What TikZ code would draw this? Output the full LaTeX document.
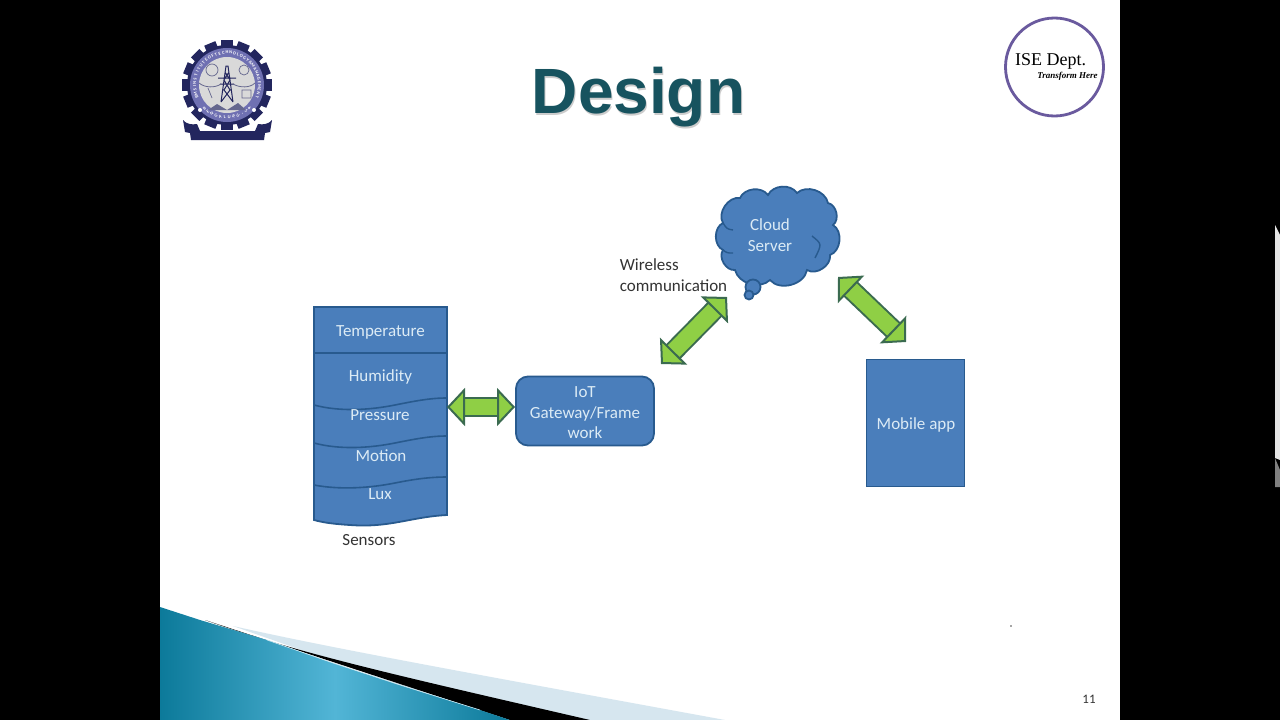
\documentclass[tikz,border=0pt]{standalone}
\usepackage{fontspec}
\setmainfont{Carlito}
\newfontfamily\titlefont{Liberation Sans}
\newfontfamily\logofont{Liberation Serif}
\usetikzlibrary{arrows.meta}
\definecolor{boxblue}{HTML}{4A7EBB}
\definecolor{boxedge}{HTML}{285A8E}
\definecolor{boxtext}{HTML}{DCEBF5}
\definecolor{linkfill}{HTML}{8FCF45}
\definecolor{linkedge}{HTML}{3B6B50}
\definecolor{titleteal}{HTML}{17535F}
\definecolor{deptpurple}{HTML}{6A5A9E}
\definecolor{gearnavy}{HTML}{23265E}
\definecolor{ringblue}{HTML}{6F70B2}
\definecolor{wedgedark}{HTML}{0C7A9A}
\definecolor{wedgelight}{HTML}{52B5D6}
\definecolor{wedgepale}{HTML}{D6E6EF}
\tikzset{
  blockbox/.style={draw=boxedge, fill=boxblue, line width=1.8pt},
  boxlabel/.style={text=boxtext, font=\fontsize{17}{20.5}\selectfont, align=center, inner sep=0pt},
  plainlabel/.style={text=black!80, font=\fontsize{17}{21}\selectfont, align=left, inner sep=0pt},
  ringchar/.style={text=white, inner sep=0pt, font=\bfseries\fontsize{4.5}{5}\selectfont},
  linkarrow/.style={draw=linkedge, double=linkfill, line width=2pt, double distance=16.5pt,
    {Triangle[length=18pt,width=38pt,fill=linkfill,color=linkedge,line width=2pt]}-{Triangle[length=18pt,width=38pt,fill=linkfill,color=linkedge,line width=2pt]}},
}
\begin{document}
\begin{tikzpicture}[x=1pt, y=-1pt]
    \useasboundingbox (0,0) rectangle (1280,720);
    % slide and black side bars
    \fill[black] (0,0) rectangle (1280,720);
    \fill[white] (160,0) rectangle (1120,720);
    \fill[black!10] (1275,225) -- (1280,235) -- (1280,460) -- (1275,458) -- cycle;
    \fill[black!50] (1275,458) -- (1280,470) -- (1280,487) -- (1275,487) -- cycle;
    % bottom wedge
    \fill[wedgepale] (233,626) .. controls (330,648) and (480,675) .. (725,720) -- (500,720) -- cycle;
    \fill[black] (205,620) .. controls (300,654) and (400,676) .. (590,720) -- (510,720) -- cycle;
    \shade[left color=wedgedark, right color=wedgedark, middle color=wedgelight]
        (160,607) -- (200,620) -- (267,640) -- (333,663) -- (400,685) -- (480,710) -- (510,720) -- (160,720) -- cycle;
    \draw[white!70!wedgelight, line width=.6pt] (267,640) -- (333,663) -- (400,685) -- (480,710);
    % logo
    \fill[gearnavy] (183,120) .. controls (186,124) and (192,125) .. (197,124) -- (200,131) -- (255,131) -- (258,124)
        .. controls (263,125) and (269,124) .. (272,120) -- (270,132) -- (265,133) -- (264,140) -- (191,140) -- (190,133) -- (185,132) -- cycle;
    \foreach \a in {0,22.5,...,359} {
        \fill[gearnavy, rotate around={\a:(227,85)}] (221,40) rectangle (233,50);
    }
    \fill[gearnavy] (227,85) circle (40);
    \fill[ringblue] (227,85) circle (37);
    \fill[black!15] (227,85) circle (28);
    \foreach \c [count=\i] in {B,M,S,I,N,S,T,I,T,U,T,E,O,F,T,E,C,H,N,O,L,O,G,Y,\&,M,A,N,A,G,E,M,E,N,T} {
        \node[ringchar, rotate={118.8-\i*6.6}] at ({227+32.5*cos(118.8-\i*6.6+90)},{85-32.5*sin(118.8-\i*6.6+90)}) {\c};
    }
    \foreach \c [count=\i] in {B,E,N,G,A,L,U,R,U,-,5,6} {
        \node[ringchar, rotate={(\i-6.5)*-8}] at ({227+32.5*cos(270+(\i-6.5)*8)},{85-32.5*sin(270+(\i-6.5)*8)}) {\c};
    }
    % tower
    \draw[gearnavy, line width=1pt] (221,102) -- (226,66) -- (228,66) -- (233,102) (221,102) -- (230,90) -- (224,80) -- (229,72) (233,102) -- (224,90) -- (230,80) -- (225,72)
        (218,78) -- (236,78) (220,84) -- (234,84);
    \draw[gearnavy!70, line width=.8pt] (199,83) .. controls (205,88) and (215,88) .. (221,84) (233,84) .. controls (240,88) and (250,88) .. (255,83);
    \draw[gearnavy!70, line width=.7pt] (212,70) circle (6) (244,70) circle (5) (242,90) rectangle (251,98) (208,88) -- (212,98);
    \fill[gearnavy!70] (208,110) -- (217,104) -- (227,110) -- (238,103) -- (246,110) -- cycle;
    \fill[white] (200,110) circle (2) (254,110) circle (2);
    % department badge
    \draw[deptpurple, line width=2.8pt, fill=white] (1054.5,67) circle (49);
    \node[inner sep=0pt, font=\logofont\fontsize{18}{20}\selectfont] (dept) at (1050.5,61) {ISE Dept.};
    \node[inner sep=0pt, font=\logofont\bfseries\itshape\fontsize{9}{11}\selectfont] (motto) at (1067.5,76) {Transform Here};
    % title
    \node[inner sep=0pt, text=black!20, font=\titlefont\bfseries\fontsize{64}{68}\selectfont] (titleshadow) at (639.5,99) {Design};
    \node[inner sep=0pt, text=titleteal, font=\titlefont\bfseries\fontsize{64}{68}\selectfont] (title) at (638.5,97) {Design};
    % sensors
    \draw[blockbox] (314,307) -- (447,307) -- (447,515) .. controls (410,517) and (390,528) .. (350,525) .. controls (335,524) and (325,523) .. (314,520) -- cycle;
    \draw[boxedge, line width=1.6pt] (314,353) -- (447,353);
    \draw[boxedge, line width=1.6pt] (314,405) .. controls (340,412) and (370,410) .. (395,405) .. controls (415,401) and (430,398) .. (447,398);
    \draw[boxedge, line width=1.6pt] (314,443) .. controls (340,450) and (370,448) .. (395,443) .. controls (415,439) and (430,436) .. (447,436);
    \draw[boxedge, line width=1.6pt] (314,485) .. controls (340,490) and (370,488) .. (395,483) .. controls (415,479) and (430,477) .. (447,477);
    \node[boxlabel] (temp) at (380.5,332) {Temperature};
    \node[boxlabel] (humid) at (380.5,377) {Humidity};
    \node[boxlabel] (press) at (380,415) {Pressure};
    \node[boxlabel] (motion) at (381,455.5) {Motion};
    \node[boxlabel] (lux) at (380,494) {Lux};
    \node[plainlabel] (sensors) at (369,540) {Sensors};
    % gateway
    \node[blockbox, rounded corners=12pt, minimum width=138pt, minimum height=69pt, inner sep=0pt] (gateway) at (585,411) {};
    \node[boxlabel] (gatewaytxt) at (585,413) {IoT\\Gateway/Frame\\work};
    % mobile app
    \node[blockbox, minimum width=98pt, minimum height=127pt, inner sep=0pt] (mobile) at (915.5,423) {};
    \node[boxlabel] (mobiletxt) at (916,425) {Mobile app};
    % cloud
    \draw[blockbox] (723,250) to[bend left=65] (723,223) to[bend left=65] (740,198) to[bend left=60] (768,195)
        to[bend left=60] (797,193) to[bend left=60] (828,203) to[bend left=65] (833,225) to[bend left=65] (830,255)
        to[bend left=65] (807,270) to[bend left=65] (770,280) to[bend left=60] (735,270) to[bend left=65] (723,250) -- cycle;
    \draw[boxedge, line width=1.4pt] (812,236) .. controls (822,244) .. (815,258) (723,250) .. controls (727,253) .. (733,253) (723,223) .. controls (727,229) .. (733,230);
    \node[blockbox, circle, minimum size=15pt, inner sep=0pt] (bubblea) at (753,287) {};
    \node[blockbox, circle, minimum size=9pt, inner sep=0pt] (bubbleb) at (749,295) {};
    \node[boxlabel, font=\fontsize{17}{21}\selectfont] (cloudtxt) at (770,235) {Cloud\\Server};
    \node[plainlabel] (wireless) at (673.5,275) {Wireless\\communication};
    % page number
    \node[inner sep=0pt, text=black!80, font=\fontsize{13}{15}\selectfont] (pagenum) at (1089,699) {11};
    \fill[black!70] (1011,626) circle (0.8);
    % arrow ends
    \coordinate (sensorport) at (447,407);
    \coordinate (gatewayport) at (515,407);
    \coordinate (gatewaytop) at (661,364);
    \coordinate (cloudleft) at (727,297);
    \coordinate (cloudright) at (838,277);
    \coordinate (mobiletop) at (906,342);
    % links
    \draw[linkarrow] (sensorport) -- (gatewayport);
    \draw[linkarrow] (gatewaytop) -- (cloudleft);
    \draw[linkarrow] (cloudright) -- (mobiletop);
\end{tikzpicture}
\end{document}
